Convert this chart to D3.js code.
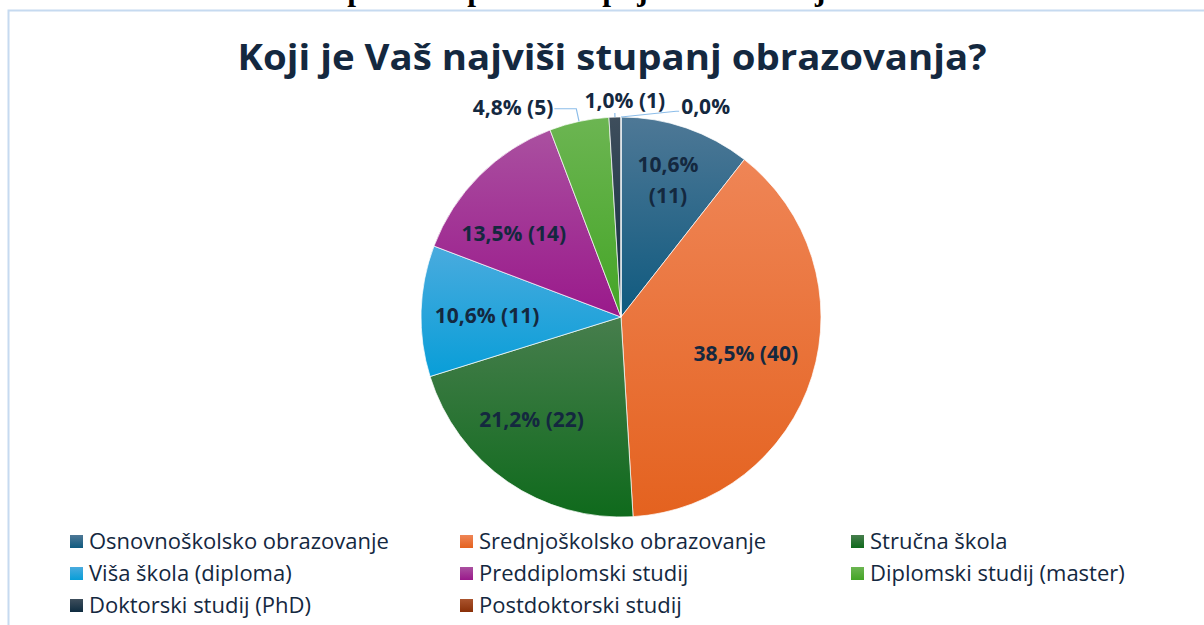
<!DOCTYPE html>
<html>
  <head>
    <meta charset="utf-8">
    <title>Koji je Vaš najviši stupanj obrazovanja?</title>
    <script src="https://d3js.org/d3.v7.min.js"></script>
    <style>
      body { margin: 0; background: #fff; }
      svg { display: block; }
    </style>
  </head>
  <body>
    <div id="chart"></div>

    <script type="text/javascript">
      var width = 1204,
          height = 625;

      // data
      var categories = ["Osnovnoškolsko obrazovanje", "Srednjoškolsko obrazovanje", "Stručna škola",
                        "Viša škola (diploma)", "Preddiplomski studij", "Diplomski studij (master)",
                        "Doktorski studij (PhD)", "Postdoktorski studij"];
      var counts = [11, 40, 22, 11, 14, 5, 1, 0];
      var percents = ["10,6%", "38,5%", "21,2%", "10,6%", "13,5%", "4,8%", "1,0%", "0,0%"];

      var baseColors  = ["#0f5a7f", "#e4621f", "#0f6a1c", "#089ed8", "#9a198b", "#44a526", "#0f2c40", "#8a3008"];
      var lightColors = ["#4e7896", "#ef8556", "#477e4d", "#4aabde", "#aa50a0", "#6cb552", "#3e4e5c", "#aa542e"];

      var titleText = "Koji je Vaš najviši stupanj obrazovanja?";
      var captionText = "Grafikon 3. Struktura ispitanika prema stupnju obrazovanja";

      var textColor = "#14283f";

      var svg = d3.select("#chart").append("svg")
          .attr("width", width)
          .attr("height", height);

      var defs = svg.append("defs");

      // caption of the document, cut by the top of the picture
      svg.append("text")
          .attr("x", 20)
          .attr("y", 0)
          .attr("font-family", "Liberation Serif, serif")
          .attr("font-weight", "bold")
          .attr("font-size", 31.5)
          .attr("fill", "#000")
          .text(captionText);

      // chart area border
      svg.append("rect")
          .attr("x", 8.5)
          .attr("y", 10.5)
          .attr("width", 1300)
          .attr("height", 700)
          .attr("fill", "#fff")
          .attr("stroke", "#c6daf0")
          .attr("stroke-width", 2);

      svg.append("text")
          .attr("x", 612)
          .attr("y", 70)
          .attr("text-anchor", "middle")
          .attr("font-family", "Open Sans, sans-serif")
          .attr("font-weight", "bold")
          .attr("font-size", 36)
          .attr("textLength", 749)
          .attr("lengthAdjust", "spacingAndGlyphs")
          .attr("fill", textColor)
          .text(titleText);

      // gradients, lighter at the top of each shape
      categories.forEach(function(c, i) {
        var gr = defs.append("linearGradient")
            .attr("id", "grad" + i)
            .attr("x1", 0).attr("y1", 0)
            .attr("x2", 0).attr("y2", 1);
        gr.append("stop").attr("offset", "0%").attr("stop-color", lightColors[i]);
        gr.append("stop").attr("offset", "100%").attr("stop-color", baseColors[i]);
      });

      var cx = 621, cy = 317, radius = 200;

      var pie = d3.pie().sort(null).value(function(d) { return d; });
      var arcs = pie(counts);

      var arc = d3.arc().innerRadius(0).outerRadius(radius);

      // label placement inside slices: radius factor and angle nudge (degrees)
      var labelRadius = [0.72, 0.65, 0.68, 0.67, 0.68, 0, 0, 0];
      var labelNudge  = [0, -1, 6.5, -1, -7, 0, 0, 0];

      var g = svg.append("g")
          .attr("transform", "translate(" + cx + "," + cy + ")");

      g.selectAll("path")
          .data(arcs)
          .enter().append("path")
          .attr("d", arc)
          .attr("fill", function(d, i) { return "url(#grad" + i + ")"; })
          .attr("stroke", "#fff")
          .attr("stroke-width", 0.7);

      var labelFont = { family: "Open Sans, sans-serif", size: 21 };

      // labels inside the big slices
      arcs.forEach(function(d, i) {
        if (d.data < 10) return;
        var a = (d.startAngle + d.endAngle) / 2 + labelNudge[i] * Math.PI / 180;
        var r = radius * labelRadius[i];
        var c = [r * Math.sin(a), -r * Math.cos(a)];
        var t = g.append("text")
            .attr("x", c[0])
            .attr("y", c[1])
            .attr("text-anchor", "middle")
            .attr("font-family", labelFont.family)
            .attr("font-weight", "bold")
            .attr("font-size", labelFont.size)
            .attr("fill", textColor);
        if (i === 0) {
          t.append("tspan").attr("x", c[0]).attr("dy", "-0.4em").text(percents[i]);
          t.append("tspan").attr("x", c[0]).attr("dy", "1.45em").text("(" + counts[i] + ")");
        } else {
          t.attr("dy", "0.35em").text(percents[i] + " (" + counts[i] + ")");
        }
      });

      // small slices: labels outside with leader lines
      var outside = [
        { index: 5, shift: 0, side: "left", text: percents[5] + " (" + counts[5] + ")" },
        { index: 6, shift: 0, side: "top", text: percents[6] + " (" + counts[6] + ")" },
        { index: 7, shift: 15, side: "right", text: percents[7] }
      ];

      outside.forEach(function(o) {
        var d = arcs[o.index];
        var mid = (d.startAngle + d.endAngle) / 2;
        var a2 = mid + o.shift * Math.PI / 180;
        var p0 = [radius * Math.sin(mid), -radius * Math.cos(mid)];
        var r1 = o.side === "top" ? radius * 1.02 : radius * 1.065;
        var p1 = [r1 * Math.sin(a2), -r1 * Math.cos(a2)];
        var pts = [p0, p1];
        var tx, ty, anchor;
        if (o.side === "left") {
          pts.push([p1[0] - 22, p1[1]]);
          tx = p1[0] - 23; ty = p1[1] - 1; anchor = "end";
        } else if (o.side === "right") {
          pts.push([p1[0] + 3, p1[1]]);
          tx = p1[0] + 5; ty = p1[1] - 5; anchor = "start";
        } else {
          tx = p1[0] + 10; ty = p1[1] - 12; anchor = "middle";
        }
        g.append("path")
            .attr("d", d3.line()(pts))
            .attr("fill", "none")
            .attr("stroke", "#8cbde9")
            .attr("stroke-width", 1.2);
        g.append("text")
            .attr("x", tx)
            .attr("y", ty)
            .attr("dy", "0.35em")
            .attr("text-anchor", anchor)
            .attr("font-family", labelFont.family)
            .attr("font-weight", "bold")
            .attr("font-size", labelFont.size)
            .attr("fill", textColor)
            .text(o.text);
      });

      // legend, 3 columns
      var legendX = [70, 460, 851],
          legendY = [541, 573, 605];

      var legend = svg.append("g");
      categories.forEach(function(c, i) {
        var col = i % 3, row = Math.floor(i / 3);
        var item = legend.append("g")
            .attr("transform", "translate(" + legendX[col] + "," + legendY[row] + ")");
        item.append("rect")
            .attr("x", 0)
            .attr("y", -6)
            .attr("width", 13)
            .attr("height", 13)
            .attr("fill", "url(#grad" + i + ")");
        item.append("text")
            .attr("x", 19)
            .attr("y", 0)
            .attr("dy", "0.35em")
            .attr("font-family", "Open Sans, sans-serif")
            .attr("font-size", 22)
            .attr("fill", textColor)
            .text(c);
      });
    </script>
  </body>
</html>
